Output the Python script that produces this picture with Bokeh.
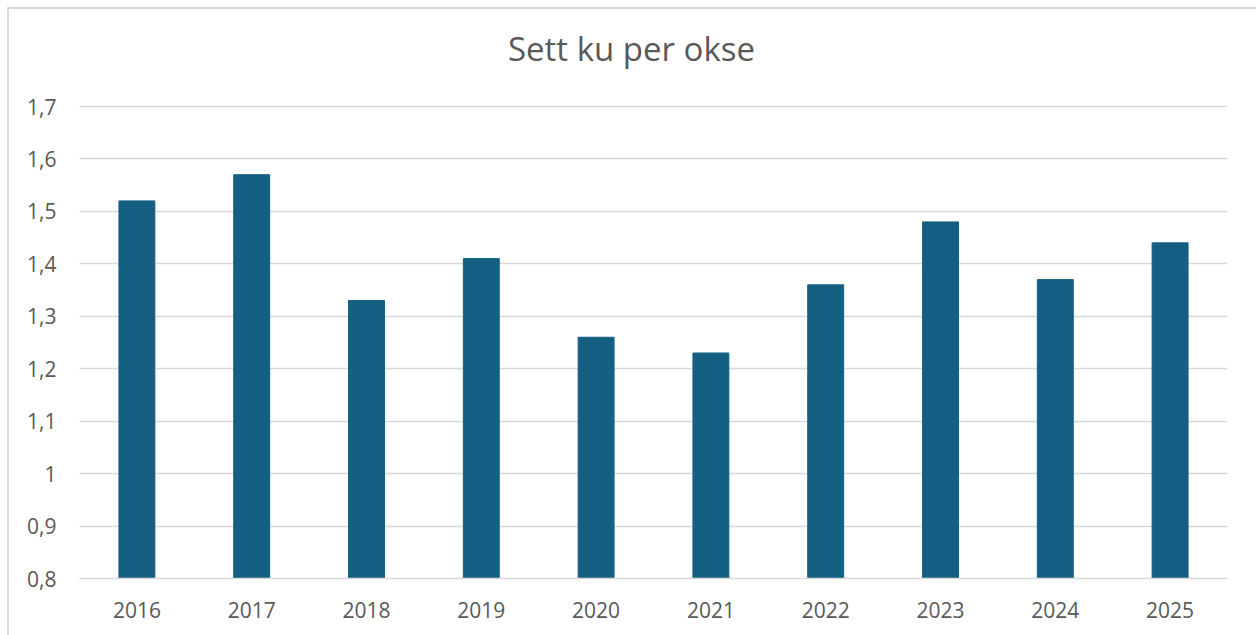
from bokeh.plotting import figure
from bokeh.embed import file_html
from bokeh.resources import INLINE
from bokeh.models import FixedTicker, CustomJSTickFormatter, Label

years = ["2016", "2017", "2018", "2019", "2020", "2021", "2022", "2023", "2024", "2025"]
values = [1.52, 1.57, 1.33, 1.41, 1.26, 1.23, 1.36, 1.48, 1.37, 1.44]
y_ticks = [0.8, 0.9, 1.0, 1.1, 1.2, 1.3, 1.4, 1.5, 1.6, 1.7]
title_text = "Sett ku per okse"

FONT = "Open Sans"
GREY = "#595959"

# frame spans full height above the axis; extra headroom above 1.7 holds the title
p = figure(x_range=years, y_range=(0.8, 1.885), width=1254, height=633,
           output_backend="svg", toolbar_location=None,
           min_border_left=70, min_border_right=36, min_border_top=0, min_border_bottom=64)
p.margin = (7, 0, 0, 7)
p.styles = {"border-left": "2px solid #d9d9d9", "border-top": "2px solid #d9d9d9"}

p.vbar(x=years, top=values, bottom=0.8, width=0.313, color="#156082")

title = Label(x=552, y=530, x_units="screen", y_units="screen", text=title_text,
              text_font=FONT, text_font_size="33px", text_color=GREY,
              text_align="center", text_baseline="middle")
p.add_layout(title)

p.outline_line_color = None
p.xgrid.grid_line_color = None
p.ygrid.grid_line_color = "#d9d9d9"
p.ygrid.grid_line_width = 1.5

p.yaxis.ticker = FixedTicker(ticks=y_ticks)
p.yaxis.formatter = CustomJSTickFormatter(code="""
    var s = (Math.round(tick*10)/10).toString();
    return s.replace('.', ',');
""")
for ax in (p.xaxis, p.yaxis):
    ax.axis_line_color = None
    ax.major_tick_line_color = None
    ax.minor_tick_line_color = None
    ax.major_label_text_font = FONT
    ax.major_label_text_font_size = "21px"
    ax.major_label_text_color = GREY
p.yaxis.major_label_standoff = 17
p.xaxis.major_label_standoff = 17
p.xaxis.axis_line_color = "#d9d9d9"
p.xaxis.axis_line_width = 1.5

open("out.html", "w").write(file_html(p, INLINE))
